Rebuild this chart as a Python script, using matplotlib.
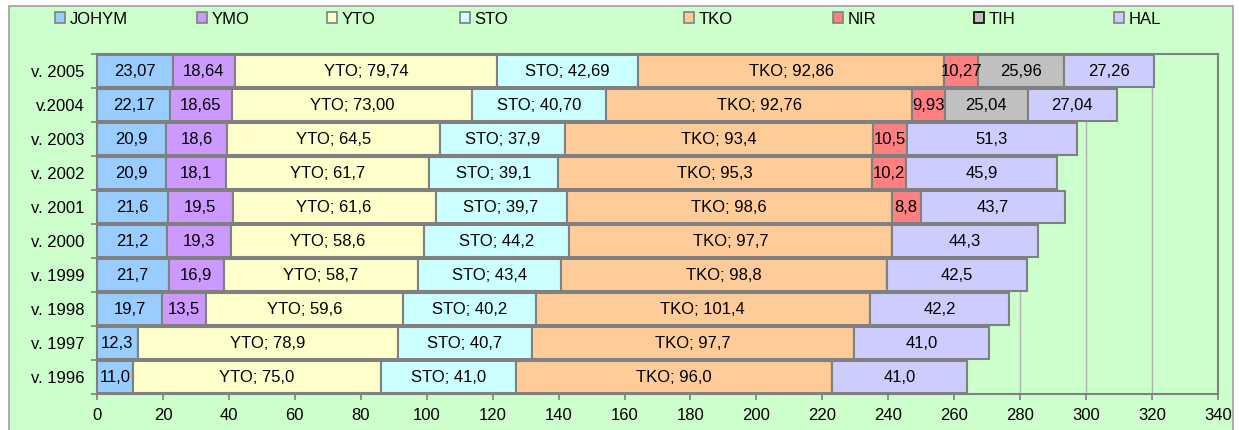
import matplotlib.pyplot as plt
from matplotlib.patches import Rectangle, Patch
import numpy as np

plt.rcParams['font.family'] = ['Liberation Sans', 'DejaVu Sans']

years = ['v. 1996', 'v. 1997', 'v. 1998', 'v. 1999', 'v. 2000',
         'v. 2001', 'v. 2002', 'v. 2003', 'v.2004', 'v. 2005']
decimals = [1, 1, 1, 1, 1, 1, 1, 1, 2, 2]

series = ['JOHYM', 'YMO', 'YTO', 'STO', 'TKO', 'NIR', 'TIH', 'HAL']
johym = [11.0, 12.3, 19.7, 21.7, 21.2, 21.6, 20.9, 20.9, 22.17, 23.07]
ymo = [0, 0, 13.5, 16.9, 19.3, 19.5, 18.1, 18.6, 18.65, 18.64]
yto = [75.0, 78.9, 59.6, 58.7, 58.6, 61.6, 61.7, 64.5, 73.00, 79.74]
sto = [41.0, 40.7, 40.2, 43.4, 44.2, 39.7, 39.1, 37.9, 40.70, 42.69]
tko = [96.0, 97.7, 101.4, 98.8, 97.7, 98.6, 95.3, 93.4, 92.76, 92.86]
nir = [0, 0, 0, 0, 0, 8.8, 10.2, 10.5, 9.93, 10.27]
tih = [0, 0, 0, 0, 0, 0, 0, 0, 25.04, 25.96]
hal = [41.0, 41.0, 42.2, 42.5, 44.3, 43.7, 45.9, 51.3, 27.04, 27.26]
values = [johym, ymo, yto, sto, tko, nir, tih, hal]
# which series show "name; value" labels
named = ['YTO', 'STO', 'TKO']

colors = ['#99CCFF', '#CC99FF', '#FFFFCC', '#CCFFFF', '#FFCC99', '#FF8080', '#C0C0C0', '#CCCCFF']
bg = '#CCFFCC'
edge = '#808080'
fs = 12

fig = plt.figure(figsize=(12.39, 4.30), dpi=100)
fig.patch.set_facecolor('white')
fig.patches.append(Rectangle((9 / 1239, -0.05), 1224 / 1239, 1 - 6 / 430 + 0.05,
                             transform=fig.transFigure, facecolor=bg,
                             edgecolor='#A0A0A0', linewidth=1.2, zorder=-1))

ax = fig.add_axes([97 / 1239, 1 - 394 / 430, 1121 / 1239, 340 / 430])
ax.set_facecolor(bg)

y = np.arange(len(years))
left = np.zeros(len(years))
for name, vals, col in zip(series, values, colors):
    vals = np.array(vals, dtype=float)
    ax.barh(y, vals, left=left, height=0.94, color=col, edgecolor=edge,
            linewidth=1.5, zorder=3)
    for i, v in enumerate(vals):
        if v == 0:
            continue
        txt = f'{v:.{decimals[i]}f}'.replace('.', ',')
        if name in named:
            txt = f'{name}; {txt}'
        ax.text(left[i] + v / 2, y[i], txt, ha='center', va='center',
                fontsize=fs, color='black', zorder=4)
    left += vals

ax.set_xlim(0, 340)
ax.set_ylim(-0.5, len(years) - 0.5)
ax.set_xticks(np.arange(0, 341, 20))
ax.set_yticks(y)
ax.set_yticklabels(years)
ax.set_yticks(np.arange(-0.5, len(years), 1), minor=True)
ax.tick_params(axis='y', which='major', length=0, pad=9, labelsize=fs)
ax.tick_params(axis='y', which='minor', length=4, color=edge, width=1.2)
ax.tick_params(axis='x', length=4, color=edge, width=1.2, labelsize=fs, pad=6)
ax.grid(axis='x', color='#B0B0B0', linewidth=1, zorder=1)
for s in ax.spines.values():
    s.set_color(edge)
    s.set_linewidth(1.5)

# legend entries spread across the top like the original
legend_x = [62, 204, 334, 467, 691, 840, 981, 1121]
for name, col, lx in zip(series, colors, legend_x):
    h = Patch(facecolor=col, edgecolor=('black' if name == 'TIH' else edge), linewidth=1.2)
    fig.legend([h], [name], loc='center left', frameon=False,
               bbox_to_anchor=(lx / 1239 - 0.006, 1 - 19 / 430),
               handlelength=0.6, handleheight=0.6, handletextpad=0.3,
               borderpad=0, borderaxespad=0, fontsize=fs)

fig.savefig('out.png', dpi=100, facecolor=fig.get_facecolor())
